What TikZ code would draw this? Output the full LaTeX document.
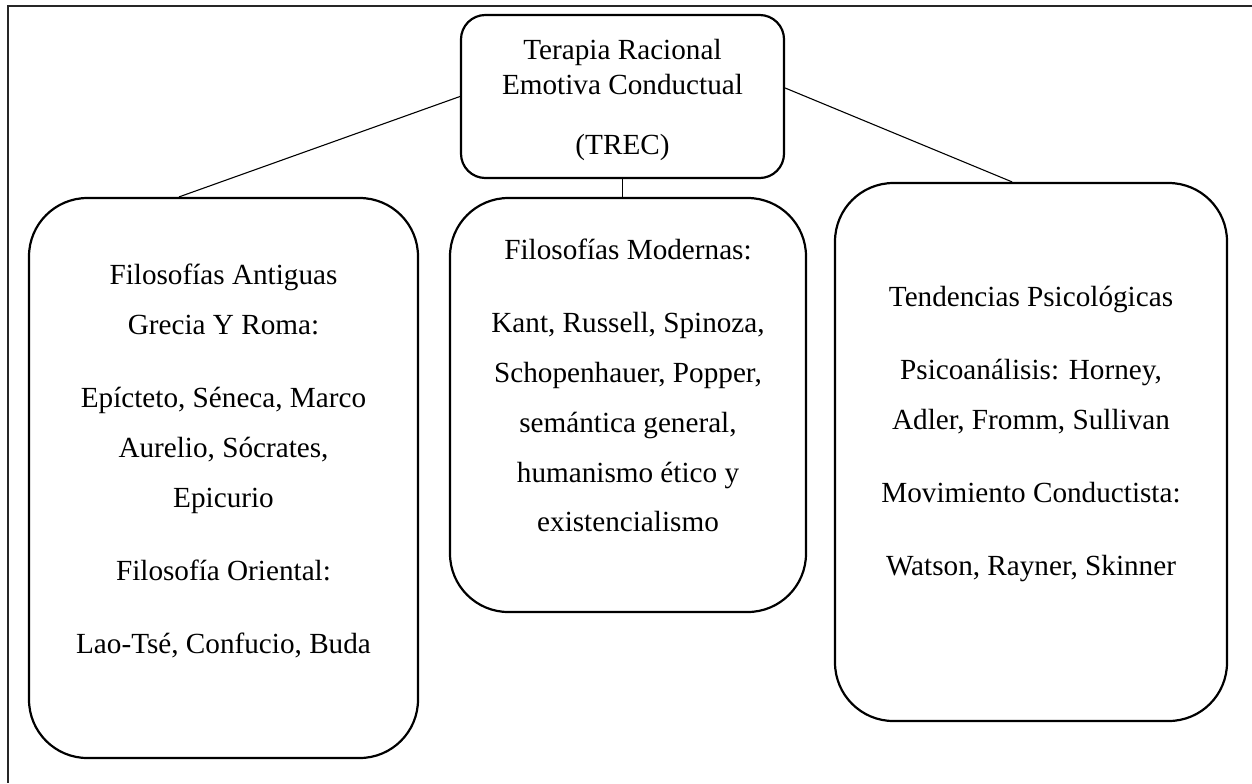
\documentclass[tikz,border=0pt]{standalone}
\usepackage{fontspec}
\setmainfont{Liberation Serif}
\usetikzlibrary{positioning,calc}

\tikzset{
  every box/.style={draw, line width=0.9pt, rounded corners=24pt, inner sep=0pt},
  box text/.style={align=center, inner sep=0pt, font=\fontsize{12}{20.5}\selectfont},
  link/.style={line width=0.45pt},
}

\begin{document}
\begin{tikzpicture}[x=0.411pt, y=-0.411pt]
\useasboundingbox (0,0) rectangle (1252,783);

% page frame, cut at the right and bottom
\draw [line width=0.8pt, black!85] (1252,6) -- (8,6) -- (8,783);

% top box
\node [every box/.try, rounded corners=10pt, minimum width=323*0.411pt, minimum height=163*0.411pt] (trec) at (622.5,96.5) {};
\node [box text, font=\fontsize{12}{14.4}\selectfont] (trec-text) at (622.5,100)
  {Terapia Racional\\Emotiva Conductual\\[9.9pt](TREC)};

% the three boxes below
\foreach \n/\cx/\cy/\w/\h in {antiguas/223.5/478/389/560, modernas/628/405/356/414, psico/1031/452/392/538}
  \node [every box/.try, minimum width=\w*0.411pt, minimum height=\h*0.411pt] (\n) at (\cx,\cy) {};

\node [box text] (antiguas-text) at (223.5,461)
  {Filosofías Antiguas\\Grecia Y Roma:\\[9.5pt]Epícteto, Séneca, Marco\\Aurelio, Sócrates,\\Epicurio\\[9.5pt]Filosofía Oriental:\\[9.5pt]Lao-Tsé, Confucio, Buda};

\node [box text] (modernas-text) at (628,385.5)
  {Filosofías Modernas:\\[9.5pt]Kant, Russell, Spinoza,\\Schopenhauer, Popper,\\semántica general,\\humanismo ético y\\existencialismo};

\node [box text] (psico-text) at (1031,434)
  {Tendencias Psicológicas\\[9.5pt]Psicoanálisis: Horney,\\Adler, Fromm, Sullivan\\[9.5pt]Movimiento Conductista:\\[9.5pt]Watson, Rayner, Skinner};

% links
\draw [link] (trec.west) -- (antiguas.99);
\draw [link] (trec.south) -- (trec.south |- modernas.north);
\draw [link] (trec.3) -- (psico.94);

\end{tikzpicture}
\end{document}
